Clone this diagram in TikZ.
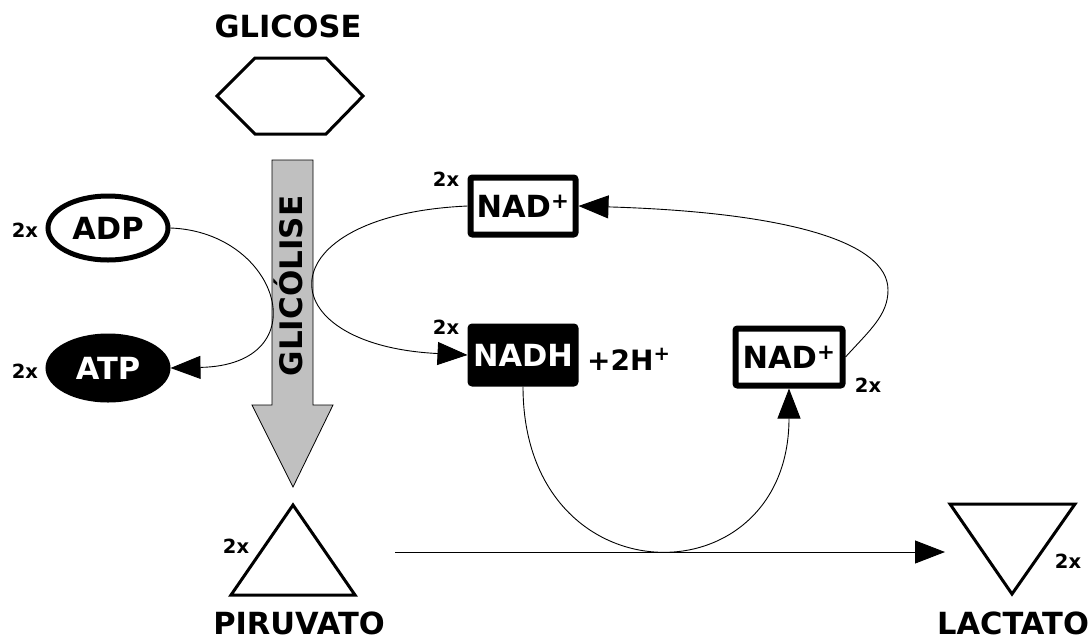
\documentclass[tikz,border=0pt]{standalone}
\usepackage{fontspec}
\setmainfont{DejaVu Sans}
\usetikzlibrary{arrows.meta,shapes.geometric}
\definecolor{arrowgray}{RGB}{192,192,192}
\begin{document}
\begin{tikzpicture}[x=1pt,y=-1pt,
  bigtext/.style={font=\fontsize{30.5}{33}\selectfont\bfseries},
  smalltext/.style={font=\fontsize{19.5}{22}\selectfont\bfseries, inner sep=0pt},
  ell/.style={ellipse, minimum width=120pt, minimum height=64pt, inner sep=0pt, line width=5pt, bigtext},
  molbox/.style={rectangle, minimum width=105pt, minimum height=57pt, inner sep=0pt, line width=6pt, rounded corners=2pt, bigtext},
  link/.style={line width=0.9pt, -{Triangle[length=30pt,width=23pt]}},
  outline/.style={line width=3pt, line join=miter}]
\useasboundingbox (0,0) rectangle (1091,643);

% glucose
\node[bigtext, inner sep=0pt] (glicose) at (288,26) {GLICOSE};
\draw[outline] (217,96) -- (255,58) -- (326,58) -- (363,96) -- (326,134) -- (255,134) -- cycle;

% glycolysis arrow
\draw[fill=arrowgray, line width=0.8pt] (272,160) -- (313,160) -- (313,405) -- (333,405) -- (293,487) -- (252,405) -- (272,405) -- cycle;
\node[font=\fontsize{31}{34}\selectfont\bfseries, rotate=90, anchor=base, inner sep=0pt] (glicolise) at (302.5,286) {GLICÓLISE};

% ADP / ATP
\node[ell, draw] (adp) at (108,228) {ADP};
\node[ell, draw, fill=black, text=white] (atp) at (108,368) {ATP};
\node[smalltext] (adp2x) at (25,230) {2x};
\node[smalltext] (atp2x) at (25,371) {2x};
\draw[link] (adp.east) .. controls (280,232) and (320,365) .. (atp.east);

% NAD+ / NADH
\node[molbox, draw] (nadtop) at (523,206) {NAD\textsuperscript{+}};
\node[molbox, draw, fill=black, text=white] (nadh) at (523,355) {NADH};
\node[molbox, draw, minimum width=107pt] (nadr) at (789,357) {NAD\textsuperscript{+}};
\node[smalltext] (nadtop2x) at (446,179) {2x};
\node[smalltext] (nadh2x) at (446,327) {2x};
\node[smalltext] (nadr2x) at (868,385) {2x};
\node[font=\fontsize{28}{30}\selectfont\bfseries, anchor=base west, inner sep=0pt] (hplus) at (587,370) {+2H\textsuperscript{+}};

\draw[link] (nadtop.west) .. controls (265,215) and (265,345) .. (nadh.west);
\draw[link] (nadh.south) .. controls (523,602) and (789,602) .. (nadr.south);
\draw[link] (nadr.east) .. controls (870,330) and (888,315) .. (888,290)
  .. controls (888,240) and (780,212) .. (nadtop.east);

% pyruvate / lactate
\draw[outline] (293,505) -- (355,595) -- (231,595) -- cycle;
\node[smalltext] (pir2x) at (236,546) {2x};
\node[bigtext, inner sep=0pt] (piruvato) at (299,623) {PIRUVATO};
\draw[outline] (950,504) -- (1075,504) -- (1012,594) -- cycle;
\node[smalltext] (lac2x) at (1068,561) {2x};
\node[bigtext, inner sep=0pt] (lactato) at (1013,623) {LACTATO};
\coordinate (pirout) at (395,552);
\coordinate (lacin) at (945,552);
\draw[link] (pirout) -- (lacin);
\end{tikzpicture}
\end{document}
